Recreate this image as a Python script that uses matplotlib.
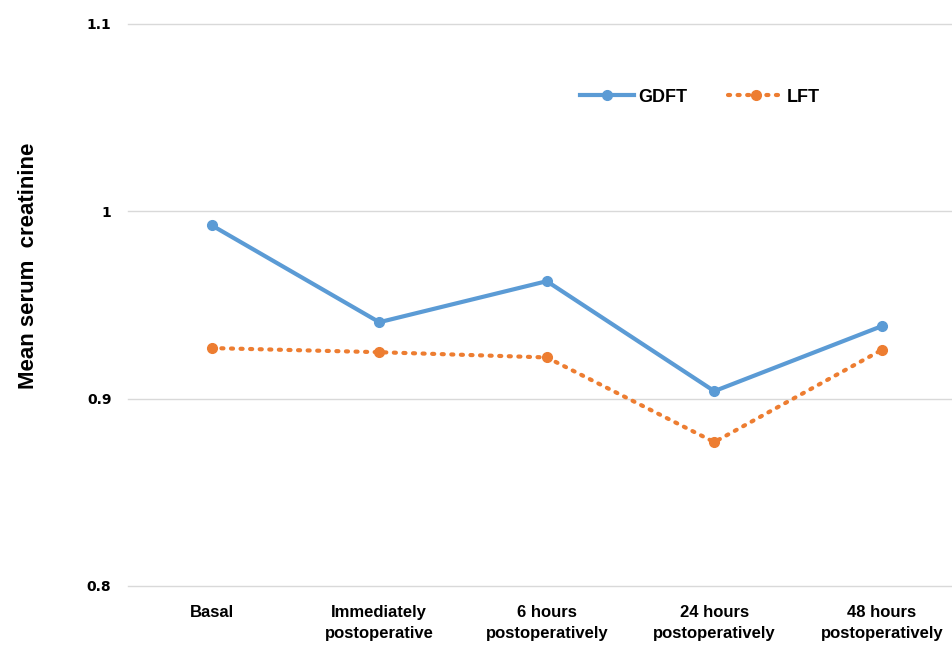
import numpy as np
import matplotlib
matplotlib.use("Agg")
from matplotlib import pyplot as plt
from matplotlib.lines import Line2D

categories = ["Basal", "Immediately\npostoperative", "6 hours\npostoperatively",
              "24 hours\npostoperatively", "48 hours\npostoperatively"]
gdft = [0.9925, 0.9408, 0.9627, 0.9040, 0.9387]
lft = [0.9270, 0.9248, 0.9220, 0.8768, 0.9260]
yticks = [0.8, 0.9, 1.0, 1.1]
ytick_labels = ["0.8", "0.9", "1", "1.1"]

BLUE = "#5b9bd5"
ORANGE = "#ed7d31"
DOTS = (0, (0.5, 1.8))
sans = ["Liberation Sans", "DejaVu Sans"]

fig = plt.figure(figsize=(9.52, 6.48), dpi=100)
# plot area runs a little past the right edge of the canvas
ax = fig.add_axes([0.1345, 0.0957, 0.8797, 0.8673])

x = np.arange(len(categories))
ax.plot(x, gdft, color=BLUE, lw=3, marker="o", ms=7, solid_capstyle="round", zorder=3)
ax.plot(x, lft, color=ORANGE, lw=3, ls=DOTS, dash_capstyle="round",
        marker="o", ms=7, zorder=3)

ax.set_xlim(-0.5, len(categories) - 0.5)
ax.set_ylim(0.8, 1.1)
ax.set_yticks(yticks)
ax.set_yticklabels(ytick_labels, fontsize=10, fontweight="bold", family="DejaVu Sans")
ax.set_xticks(x)
ax.set_xticklabels(categories, fontsize=12, fontweight="bold", family=sans,
                   linespacing=1.45)
ax.tick_params(length=0)
ax.tick_params(axis="y", pad=12)
ax.tick_params(axis="x", pad=14)
ax.grid(axis="y", color="#d9d9d9", lw=1)
for gl in ax.get_ygridlines():
    gl.set_clip_on(False)
ax.set_axisbelow(True)
for s in ax.spines.values():
    s.set_visible(False)

fig.text(0.03, 0.59, "Mean serum  creatinine", rotation=90, ha="center", va="center",
         fontsize=16, fontweight="bold", family=sans)

handles = [
    Line2D([], [], color=BLUE, lw=3, marker="o", ms=7),
    Line2D([], [], color=ORANGE, lw=3, ls=DOTS, dash_capstyle="round",
           marker="o", ms=7),
]
leg = fig.legend(handles, ["GDFT", "LFT"], loc="center", bbox_to_anchor=(0.735, 0.85),
                 ncol=2, frameon=False, handlelength=3.0, handletextpad=0.2,
                 columnspacing=2.3,
                 prop={"size": 13, "weight": "bold", "family": sans})

fig.savefig("out.png", dpi=100)
